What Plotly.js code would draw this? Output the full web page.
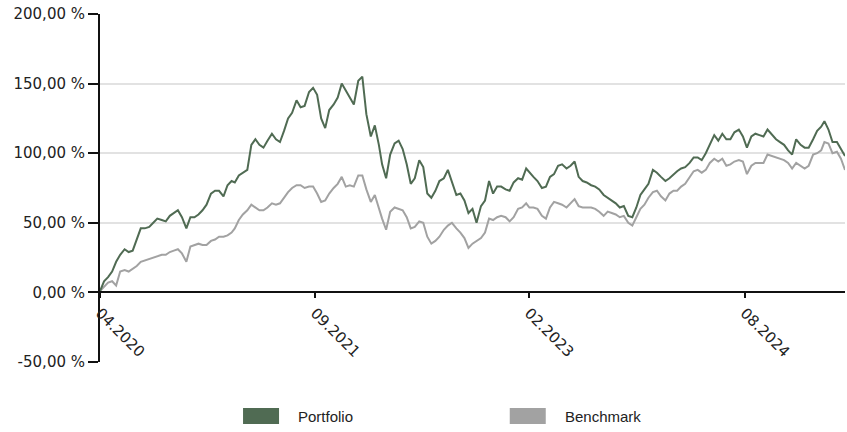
<!DOCTYPE html>
<html>
<head>
<meta charset="utf-8">
<script src="https://cdn.plot.ly/plotly-3.0.1.min.js"></script>
<style>html,body{margin:0;padding:0;background:#fff;}#chart{width:847px;height:432px;}</style>
</head>
<body>
<div id="chart"></div>
<script>
const seriesNames = ["Portfolio", "Benchmark"];
const seriesColors = ["#506b53", "#a2a2a2"];

const dates = [
"2020-04-01","2020-04-11","2020-04-21","2020-05-01","2020-05-11","2020-05-21","2020-06-01","2020-06-11","2020-06-21",
"2020-07-01","2020-07-11","2020-07-21","2020-08-01","2020-08-11","2020-08-21","2020-09-01","2020-09-11","2020-09-21",
"2020-10-01","2020-10-11","2020-10-21","2020-11-01","2020-11-11","2020-11-21","2020-12-01","2020-12-11","2020-12-21",
"2021-01-01","2021-01-11","2021-01-21","2021-02-01","2021-02-11","2021-02-21","2021-03-01","2021-03-11","2021-03-21",
"2021-04-01","2021-04-11","2021-04-21","2021-05-01","2021-05-11","2021-05-21","2021-06-01","2021-06-11","2021-06-21",
"2021-07-01","2021-07-11","2021-07-21","2021-08-01","2021-08-11","2021-08-21","2021-09-01","2021-09-11","2021-09-21",
"2021-10-01","2021-10-11","2021-10-21","2021-11-01","2021-11-11","2021-11-21","2021-12-01","2021-12-11","2021-12-21",
"2022-01-01","2022-01-11","2022-01-21","2022-02-01","2022-02-11","2022-02-21","2022-03-01","2022-03-11","2022-03-21",
"2022-04-01","2022-04-11","2022-04-21","2022-05-01","2022-05-11","2022-05-21","2022-06-01","2022-06-11","2022-06-21",
"2022-07-01","2022-07-11","2022-07-21","2022-08-01","2022-08-11","2022-08-21","2022-09-01","2022-09-11","2022-09-21",
"2022-10-01","2022-10-11","2022-10-21","2022-11-01","2022-11-11","2022-11-21","2022-12-01","2022-12-11","2022-12-21",
"2023-01-01","2023-01-11","2023-01-21","2023-02-01","2023-02-11","2023-02-21","2023-03-01","2023-03-11","2023-03-21",
"2023-04-01","2023-04-11","2023-04-21","2023-05-01","2023-05-11","2023-05-21","2023-06-01","2023-06-11","2023-06-21",
"2023-07-01","2023-07-11","2023-07-21","2023-08-01","2023-08-11","2023-08-21","2023-09-01","2023-09-11","2023-09-21",
"2023-10-01","2023-10-11","2023-10-21","2023-11-01","2023-11-11","2023-11-21","2023-12-01","2023-12-11","2023-12-21",
"2024-01-01","2024-01-11","2024-01-21","2024-02-01","2024-02-11","2024-02-21","2024-03-01","2024-03-11","2024-03-21",
"2024-04-01","2024-04-11","2024-04-21","2024-05-01","2024-05-11","2024-05-21","2024-06-01","2024-06-11","2024-06-21",
"2024-07-01","2024-07-11","2024-07-21","2024-08-01","2024-08-11","2024-08-21","2024-09-01","2024-09-11","2024-09-21",
"2024-10-01","2024-10-11","2024-10-21","2024-11-01","2024-11-11","2024-11-21","2024-12-01","2024-12-11","2024-12-21",
"2025-01-01","2025-01-11","2025-01-21","2025-02-01","2025-02-11","2025-02-21","2025-03-01","2025-03-11","2025-03-21",
"2025-04-01","2025-04-11","2025-04-21"
];

const portfolio = [
1,8,11, 15,22,27, 31,29,30, 38,46,46, 47,50,53, 52,51,55, 57,59,54, 46,54,54, 56,59,63,
71,73,73, 69,77,80, 79,84,86, 88,106,110, 106,104,109, 114,110,108, 116,125,129, 138,133,134, 144,147,142,
125,118,131, 135,140,150, 145,139,135, 152,155,128, 112,120,106, 92,82,99, 107,109,103, 92,78,82, 95,90,71,
68,73,80, 82,88,80, 70,71,66, 57,60,50, 62,66,80, 71,76,76, 74,73,79, 82,81,89, 86,83,80,
75,76,83, 85,91,92, 89,91,94, 83,80,79, 77,76,74, 70,68,66, 64,61,62, 55,54,61, 70,74,78,
88,86,83, 80,82,85, 87,89,90, 93,97,97, 95,100,106, 113,109,114, 110,110,115, 117,112,104, 112,114,113,
112,117,114, 110,108,106, 102,99,110, 106,104,104, 110,116,119, 123,117,108, 108,103,98
];

const benchmark = [
1,4,7, 8,5,15, 16,15,17, 19,22,23, 24,25,26, 27,27,29, 30,31,28, 22,33,34, 35,34,34,
37,38,40, 40,41,43, 46,52,56, 59,63,61, 59,59,61, 64,63,64, 68,72,75, 77,77,75, 76,76,71,
65,66,71, 75,78,83, 76,77,76, 84,84,74, 65,70,60, 53,45,58, 61,60,59, 54,46,47, 51,50,40,
35,37,40, 45,48,50, 46,43,39, 32,35,37, 39,43,53, 52,54,55, 54,51,54, 60,61,64, 61,61,60,
55,53,61, 65,64,63, 61,64,67, 62,61,61, 61,60,58, 55,58,57, 56,54,55, 50,48,54, 60,63,68,
72,73,69, 66,71,73, 73,76,78, 83,87,88, 86,88,93, 96,94,96, 91,92,94, 95,94,85, 91,93,93,
93,99,98, 97,96,95, 93,89,93, 91,89,91, 99,100,102, 108,107,100, 101,96,88
];

const xTickVals = ["2020-04-01", "2021-09-16", "2023-02-28", "2024-08-16"];
const xTickText = ["04.2020", "09.2021", "02.2023", "08.2024"];
const yTickVals = [-50, 0, 50, 100, 150, 200];
const yTickText = yTickVals.map(v => v.toFixed(2).replace(".", ",") + " %");

const TICKFONT = "DejaVu Sans, Verdana, sans-serif";
const FONT = "Liberation Sans, Arial, sans-serif";

const traces = [
  {x: dates, y: benchmark, type: "scatter", mode: "lines", name: seriesNames[1],
   line: {color: seriesColors[1], width: 2}, showlegend: false, hoverinfo: "skip"},
  {x: dates, y: portfolio, type: "scatter", mode: "lines", name: seriesNames[0],
   line: {color: seriesColors[0], width: 2}, showlegend: false, hoverinfo: "skip"}
];

// legend built from series names/colors
const legendX = [0.192, 0.550];
const shapes = [];
const annotations = [];
seriesNames.forEach((n, i) => {
  shapes.push({type: "rect", xref: "paper", yref: "paper",
    xsizemode: "pixel", ysizemode: "pixel", xanchor: legendX[i], yanchor: -0.155,
    x0: 0, x1: 36, y0: -8, y1: 8, fillcolor: seriesColors[i], line: {width: 0}});
  annotations.push({xref: "paper", yref: "paper", x: legendX[i] + 0.0715, y: -0.157,
    xanchor: "left", yanchor: "middle", showarrow: false, text: n,
    font: {family: FONT, size: 15, color: "#222"}});
});

const layout = {
  width: 847, height: 432,
  margin: {l: 100, r: 2, t: 14, b: 70},
  paper_bgcolor: "#fff", plot_bgcolor: "#fff",
  font: {family: FONT, size: 15, color: "#222"},
  xaxis: {
    type: "date", range: ["2020-04-01", "2025-04-21"],
    anchor: "free", position: 0.2,
    showgrid: false, zeroline: false,
    showline: true, linecolor: "#111", linewidth: 2,
    ticks: "outside", ticklen: 5, tickwidth: 2, tickcolor: "#111",
    tickmode: "array", tickvals: xTickVals, ticktext: xTickText,
    tickangle: 45, tickfont: {family: TICKFONT, size: 15, color: "#222"}
  },
  yaxis: {
    range: [-50, 200], tickmode: "array", tickvals: yTickVals, ticktext: yTickText,
    showgrid: true, gridcolor: "#e2e2e2", gridwidth: 2,
    zeroline: false, showline: true, linecolor: "#111", linewidth: 2,
    ticks: "outside", ticklen: 10, tickwidth: 2, tickcolor: "#111",
    tickfont: {family: TICKFONT, size: 15, color: "#222"}
  },
  shapes: shapes,
  annotations: annotations,
  showlegend: false
};

Plotly.newPlot("chart", traces, layout, {displayModeBar: false, staticPlot: true});
</script>
</body>
</html>
